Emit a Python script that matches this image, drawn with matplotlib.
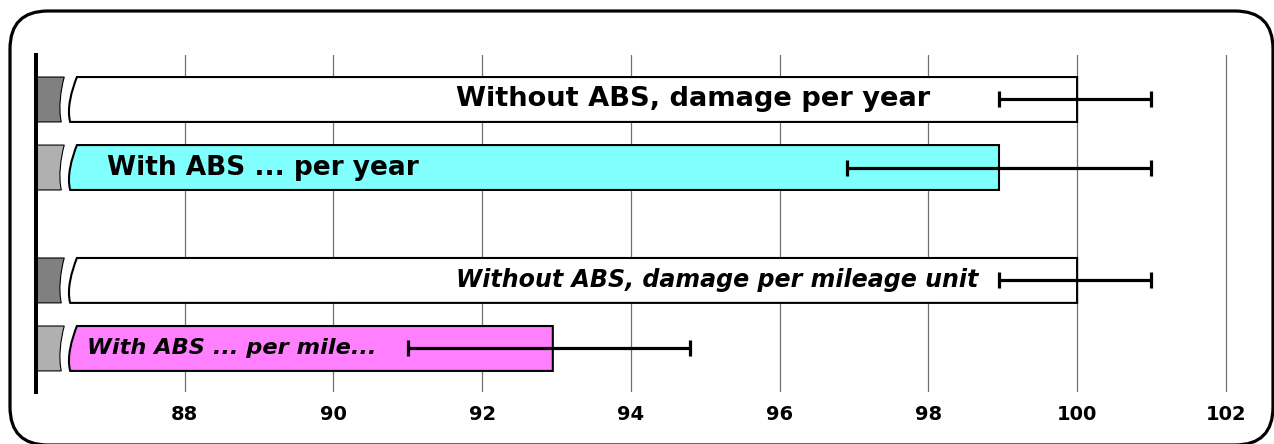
import matplotlib.pyplot as plt
from matplotlib.path import Path
from matplotlib.patches import PathPatch, FancyBboxPatch

labels = ["Without ABS, damage per year", "With ABS ... per year",
          "Without ABS, damage per mileage unit", "With ABS ... per mile..."]
values = [100.0, 98.95, 100.0, 92.95]
err_low = [98.95, 96.9, 98.95, 91.0]
err_high = [101.0, 101.0, 101.0, 94.8]
ticks = [88, 90, 92, 94, 96, 98, 100, 102]

positions = [0, 1, 2.66, 3.66]
colors = ["white", "#80ffff", "white", "#ff80ff"]
stub_colors = ["#808080", "#b0b0b0", "#808080", "#b0b0b0"]
label_x = [98.02, 86.95, 98.67, 86.69]
label_ha = ["right", "left", "right", "left"]
label_style = ["normal", "normal", "italic", "italic"]
label_size = [19.6, 19, 17.1, 16.2]

XMIN, XMAX = 86.0, 102.5
H = 0.66


def broken_bar(ax, y, right, face, stub_face):
    yt, yb = y - H / 2, y + H / 2
    # main bar, curved left edge
    lt, lb = 86.55, 86.46
    verts = [(lt, yt), (right, yt), (right, yb), (lb, yb),
             (lb - 0.05, yb - H * 0.3), (lt - 0.07, yt + H * 0.3), (lt, yt),
             (lt, yt)]
    codes = [Path.MOVETO, Path.LINETO, Path.LINETO, Path.LINETO,
             Path.CURVE4, Path.CURVE4, Path.CURVE4, Path.CLOSEPOLY]
    ax.add_patch(PathPatch(Path(verts, codes), facecolor=face,
                           edgecolor="black", lw=1.5, zorder=2))
    # stub at the axis
    st, sb = 86.38, 86.34
    verts = [(XMIN, yt), (st, yt),
             (st - 0.05, yt + H * 0.3), (sb - 0.04, yb - H * 0.3), (sb, yb),
             (XMIN, yb), (XMIN, yt)]
    codes = [Path.MOVETO, Path.LINETO, Path.CURVE4, Path.CURVE4, Path.CURVE4,
             Path.LINETO, Path.CLOSEPOLY]
    ax.add_patch(PathPatch(Path(verts, codes), facecolor=stub_face,
                           edgecolor="black", lw=0.8, zorder=2))


fig = plt.figure(figsize=(12.74, 4.44), dpi=100)
ax = fig.add_axes([36 / 1274, 1 - 392 / 444, (1263 - 36) / 1274, (392 - 55) / 444])

for i in range(len(values)):
    broken_bar(ax, positions[i], values[i], colors[i], stub_colors[i])
    ax.errorbar([values[i]], [positions[i]],
                xerr=[[values[i] - err_low[i]], [err_high[i] - values[i]]],
                fmt="none", ecolor="black", elinewidth=2.3, capsize=5.5,
                capthick=2.3, zorder=4)
    ax.text(label_x[i], positions[i], labels[i], ha=label_ha[i], va="center",
            fontsize=label_size[i], fontweight="bold", fontstyle=label_style[i],
            zorder=3)

ax.set_xlim(XMIN, XMAX)
ax.set_ylim(4.30, -0.654)
ax.set_xticks(ticks)
ax.set_xticklabels([str(t) for t in ticks], fontsize=14, fontweight="bold")
ax.set_yticks([])
ax.tick_params(axis="x", length=0, pad=9)
ax.grid(axis="x", color="#707070", lw=0.9, zorder=0)
ax.set_axisbelow(True)
for s in ["top", "right", "bottom"]:
    ax.spines[s].set_visible(False)
ax.spines["left"].set_linewidth(2.9)
ax.spines["left"].set_zorder(5)

frame = FancyBboxPatch((0.10, -0.01), 12.63, 4.34,
                       boxstyle="round,pad=0,rounding_size=0.38",
                       transform=fig.dpi_scale_trans, facecolor="none",
                       edgecolor="black", lw=2.3)
fig.patches.append(frame)

fig.savefig("out.png", dpi=100)
